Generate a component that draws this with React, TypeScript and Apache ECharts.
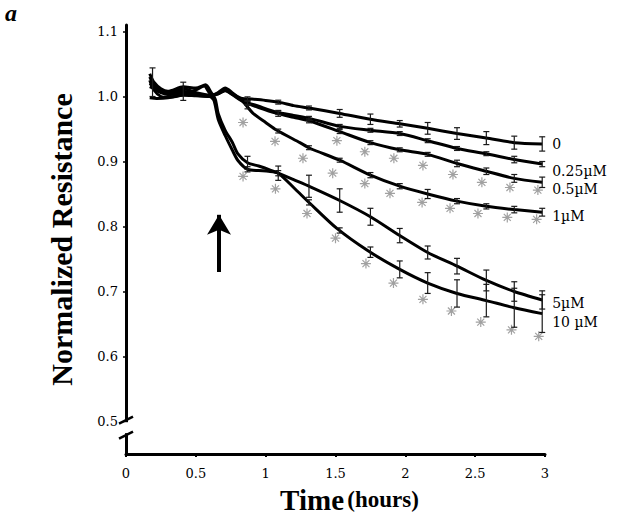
import { useEffect, useRef } from "react";
import * as echarts from "echarts";

// ---- axis ticks ----
const TIME_TICKS = [0, 0.5, 1, 1.5, 2, 2.5, 3];
const RESISTANCE_TICKS = [0.5, 0.6, 0.7, 0.8, 0.9, 1.0, 1.1];

// ---- series (time in hours, normalized resistance) ----
const SERIES_NAMES = ["0", "0.25µM", "0.5µM", "1µM", "5µM", "10 µM"];

const conc0: [number, number][] = [
  [0.17, 1.03], [0.2, 1.018], [0.25, 1.01], [0.3, 1.006], [0.41, 1.008], [0.5, 1.004], [0.6, 1.001],
  [0.66, 1.004], [0.71, 1.009], [0.76, 1.004], [0.83, 0.997], [0.9, 0.996], [1.0, 0.994], [1.1, 0.991],
  [1.2, 0.986], [1.32, 0.982], [1.53, 0.974], [1.75, 0.965], [1.96, 0.958], [2.16, 0.951], [2.37, 0.943],
  [2.58, 0.936], [2.78, 0.929], [2.98, 0.927],
];
const conc025: [number, number][] = [
  [0.17, 1.02], [0.2, 1.015], [0.25, 1.008], [0.3, 1.004], [0.41, 1.012], [0.5, 1.006], [0.6, 1.002],
  [0.66, 1.005], [0.71, 1.011], [0.76, 1.004], [0.84, 0.993], [0.95, 0.985], [1.08, 0.976], [1.2, 0.971],
  [1.32, 0.966], [1.53, 0.954], [1.75, 0.948], [1.96, 0.943], [2.16, 0.932], [2.37, 0.92], [2.58, 0.912],
  [2.78, 0.903], [2.98, 0.896],
];
const conc05: [number, number][] = [
  [0.17, 0.998], [0.22, 0.997], [0.3, 0.998], [0.41, 1.003], [0.5, 1.01], [0.56, 1.016], [0.61, 1.003],
  [0.66, 1.004], [0.71, 1.01], [0.76, 1.003], [0.84, 0.992], [0.95, 0.983], [1.08, 0.974], [1.2, 0.968],
  [1.32, 0.962], [1.53, 0.946], [1.75, 0.929], [1.96, 0.918], [2.16, 0.911], [2.37, 0.897], [2.58, 0.885],
  [2.78, 0.874], [2.98, 0.868],
];
const conc1: [number, number][] = [
  [0.17, 1.015], [0.2, 1.012], [0.25, 1.006], [0.3, 1.003], [0.41, 1.005], [0.5, 1.002], [0.6, 1.0],
  [0.66, 1.006], [0.71, 1.013], [0.76, 1.006], [0.83, 0.994], [0.91, 0.974], [1.0, 0.96], [1.08, 0.948],
  [1.245, 0.929], [1.32, 0.92], [1.53, 0.902], [1.75, 0.879], [1.96, 0.862], [2.16, 0.85], [2.37, 0.839],
  [2.58, 0.831], [2.78, 0.826], [2.98, 0.822],
];
const conc5: [number, number][] = [
  [0.17, 1.035], [0.2, 1.022], [0.25, 1.012], [0.3, 1.008], [0.41, 1.015], [0.5, 1.013], [0.57, 1.018],
  [0.61, 1.006], [0.64, 0.995], [0.66, 0.974], [0.71, 0.948], [0.76, 0.93], [0.8, 0.912], [0.87, 0.898],
  [0.95, 0.893], [1.02, 0.888], [1.09, 0.882], [1.2, 0.872], [1.32, 0.861], [1.53, 0.84], [1.75, 0.815],
  [1.96, 0.786], [2.16, 0.76], [2.37, 0.739], [2.58, 0.717], [2.78, 0.7], [2.98, 0.687],
];
const conc10: [number, number][] = [
  [0.17, 1.025], [0.2, 1.01], [0.25, 1.0], [0.3, 0.999], [0.41, 1.002], [0.5, 1.001], [0.6, 1.0],
  [0.63, 0.994], [0.66, 0.965], [0.71, 0.94], [0.76, 0.918], [0.8, 0.902], [0.87, 0.888], [0.95, 0.886],
  [1.02, 0.885], [1.09, 0.882], [1.2, 0.86], [1.32, 0.835], [1.51, 0.797], [1.73, 0.763], [1.96, 0.734],
  [2.16, 0.713], [2.37, 0.697], [2.58, 0.686], [2.78, 0.675], [2.98, 0.666],
];
const SERIES_DATA = [conc0, conc025, conc05, conc1, conc5, conc10];

// ---- error bars (half-length) at these times ----
const BAR_TIMES = [0.19, 0.41, 0.87, 1.09, 1.31, 1.53, 1.75, 1.96, 2.16, 2.37, 2.58, 2.78, 2.98];
const err0 = [0.022, 0.014, 0.003, 0.003, 0.003, 0.006, 0.008, 0.005, 0.009, 0.009, 0.01, 0.01, 0.011];
const err025 = [0, 0, 0.003, 0.003, 0.003, 0.003, 0.003, 0.003, 0.003, 0.003, 0.003, 0.005, 0.004];
const err05 = [0, 0, 0.003, 0.004, 0.003, 0.003, 0.003, 0.003, 0.003, 0.005, 0.005, 0.006, 0.008];
const err1 = [0, 0, 0.003, 0.003, 0.003, 0.003, 0.004, 0.004, 0.007, 0.004, 0.004, 0.005, 0.006];
const err5 = [0, 0, 0.01, 0.011, 0.017, 0.018, 0.013, 0.011, 0.01, 0.012, 0.016, 0.015, 0.014];
const err10 = [0, 0, 0.004, 0.004, 0.004, 0.004, 0.008, 0.013, 0.016, 0.021, 0.025, 0.03, 0.029];
const SERIES_ERRORS = [err0, err025, err05, err1, err5, err10];

// ---- significance asterisks ----
const SIGNIFICANT: [number, number][] = [
  [0.838, 0.96], [1.067, 0.931], [1.267, 0.905], [1.48, 0.882], [1.71, 0.866], [1.89, 0.851],
  [2.12, 0.837], [2.32, 0.828], [2.52, 0.82], [2.73, 0.814], [2.94, 0.811],
  [1.51, 0.932], [1.71, 0.915], [1.918, 0.905], [2.126, 0.894], [2.341, 0.88], [2.548, 0.868],
  [2.749, 0.86], [2.949, 0.856],
  [0.838, 0.877], [1.07, 0.858], [1.296, 0.82], [1.5, 0.782], [1.718, 0.743], [1.915, 0.713],
  [2.126, 0.688], [2.33, 0.67], [2.54, 0.653], [2.76, 0.641], [2.955, 0.631],
];

// ---- arrow marking treatment ----
const ARROW_TIME = 0.666;
const ARROW_FROM = 0.73;
const ARROW_TO = 0.818;

// axis break position (values)
const BREAK_VALUES = [0.502, 0.479];

const LABEL_DY = [0, 7, 7, 4, 3, 8];

function valueAt(pts: [number, number][], t: number): number {
  if (t <= pts[0][0]) return pts[0][1];
  for (let i = 1; i < pts.length; i++) {
    if (t <= pts[i][0]) {
      const [t0, v0] = pts[i - 1];
      const [t1, v1] = pts[i];
      return v0 + ((v1 - v0) * (t - t0)) / (t1 - t0);
    }
  }
  return pts[pts.length - 1][1];
}

const SERIF = "DejaVu Serif";
const TITLE_SERIF = "Liberation Serif";

export default function App() {
  const ref = useRef<HTMLDivElement>(null);

  useEffect(() => {
    document.body.style.margin = "0";
    const chart = echarts.init(ref.current!, null, { renderer: "svg" });

    const errorData: number[][] = [];
    SERIES_DATA.forEach((pts, s) => {
      BAR_TIMES.forEach((t, k) => {
        const e = SERIES_ERRORS[s][k];
        if (e > 0) {
          const v = valueAt(pts, t);
          errorData.push([t, v - e, v + e]);
        }
      });
    });

    const lineSeries: any[] = SERIES_DATA.map((pts, i) => ({
      type: "line",
      name: SERIES_NAMES[i],
      data: pts,
      showSymbol: false,
      smooth: 0.25,
      lineStyle: { color: "#000", width: 3 },
      z: 3,
      endLabel: {
        show: true,
        formatter: SERIES_NAMES[i],
        distance: 10,
        offset: [0, LABEL_DY[i]],
        color: "#000",
        fontFamily: SERIF,
        fontSize: 14,
      },
      ...(i === 5
        ? {
            markLine: {
              silent: true,
              symbol: ["none", "arrow"],
              symbolSize: [18, 20],
              lineStyle: { color: "#000", width: 4, type: "solid" },
              label: { show: false },
              data: [[{ coord: [ARROW_TIME, ARROW_FROM] }, { coord: [ARROW_TIME, ARROW_TO] }]],
            },
          }
        : {}),
    }));

    const option: any = {
      animation: false,
      backgroundColor: "#fff",
      grid: { left: 126, right: 79, top: 25, bottom: 66 },
      xAxis: {
        type: "value",
        min: TIME_TICKS[0],
        max: TIME_TICKS[TIME_TICKS.length - 1],
        interval: 0.5,
        name: "{a|Time} {b|(hours)}",
        nameLocation: "middle",
        nameGap: 31,
        nameTextStyle: {
          padding: [0, 0, 0, 28],
          rich: {
            a: { fontFamily: TITLE_SERIF, fontWeight: "bold", fontSize: 29, color: "#000" },
            b: { fontFamily: TITLE_SERIF, fontWeight: "bold", fontSize: 23, color: "#000" },
          },
        },
        axisLine: { lineStyle: { color: "#000", width: 3 } },
        axisTick: { show: true, length: 3, lineStyle: { color: "#000", width: 2 } },
        axisLabel: {
          margin: 13,
          color: "#000",
          fontFamily: SERIF,
          fontSize: 13,
          formatter: (v: number) => String(v),
        },
        splitLine: { show: false },
      },
      yAxis: {
        type: "value",
        min: 0.45,
        max: 1.11,
        name: "Normalized Resistance",
        nameLocation: "middle",
        nameGap: 50,
        nameTextStyle: {
          fontFamily: TITLE_SERIF,
          fontWeight: "bold",
          fontSize: 30,
          color: "#000",
        },
        axisLine: { show: true, lineStyle: { color: "#000", width: 3 } },
        axisTick: {
          show: true,
          length: 3,
          customValues: RESISTANCE_TICKS,
          lineStyle: { color: "#000", width: 1.5 },
        },
        axisLabel: {
          customValues: RESISTANCE_TICKS,
          margin: 8,
          color: "#000",
          fontFamily: SERIF,
          fontSize: 13,
          formatter: (v: number) => v.toFixed(1),
        },
        splitLine: { show: false },
      },
      series: [
        ...lineSeries,
        {
          type: "custom",
          name: "error",
          z: 4,
          encode: { x: 0, y: [1, 2] },
          data: errorData,
          renderItem: (_p: any, api: any) => {
            const t = api.value(0);
            const top = api.coord([t, api.value(2)]);
            const bot = api.coord([t, api.value(1)]);
            const w = 3;
            const style = { stroke: "#1a1a1a", lineWidth: 1.2 };
            return {
              type: "group",
              children: [
                { type: "line", shape: { x1: top[0], y1: top[1], x2: bot[0], y2: bot[1] }, style },
                { type: "line", shape: { x1: top[0] - w, y1: top[1], x2: top[0] + w, y2: top[1] }, style },
                { type: "line", shape: { x1: bot[0] - w, y1: bot[1], x2: bot[0] + w, y2: bot[1] }, style },
              ],
            };
          },
        },
        {
          type: "scatter",
          name: "significant",
          data: SIGNIFICANT,
          symbol: "path://M0,-5L0,5M-5,0L5,0M-3.5,-3.5L3.5,3.5M-3.5,3.5L3.5,-3.5",
          symbolSize: 10,
          itemStyle: { color: "rgba(0,0,0,0)", borderColor: "#8a8a8a", borderWidth: 1.2 },
          z: 2,
        },
      ],
    };

    chart.setOption(option);

    const yUp = chart.convertToPixel({ gridIndex: 0 }, [0, BREAK_VALUES[0]]) as number[];
    const yLo = chart.convertToPixel({ gridIndex: 0 }, [0, BREAK_VALUES[1]]) as number[];
    const ax = yUp[0];
    chart.setOption({
      graphic: [
        {
          type: "rect",
          shape: { x: ax - 3, y: yUp[1] + 2, width: 6, height: yLo[1] - yUp[1] - 4 },
          style: { fill: "#fff" },
          z: 100,
        },
        {
          type: "line",
          shape: { x1: ax - 7, y1: yUp[1] + 3.5, x2: ax + 7, y2: yUp[1] - 3.5 },
          style: { stroke: "#000", lineWidth: 2.5 },
          z: 101,
        },
        {
          type: "line",
          shape: { x1: ax - 7, y1: yLo[1] + 3.5, x2: ax + 7, y2: yLo[1] - 3.5 },
          style: { stroke: "#000", lineWidth: 2.5 },
          z: 101,
        },
        {
          type: "text",
          left: 5,
          top: 1,
          style: {
            text: "a",
            fontFamily: TITLE_SERIF,
            fontWeight: "bold",
            fontStyle: "italic",
            fontSize: 24,
            fill: "#000",
          },
        },
      ],
    });

    return () => chart.dispose();
  }, []);

  return <div ref={ref} style={{ width: 624, height: 520 }} />;
}
